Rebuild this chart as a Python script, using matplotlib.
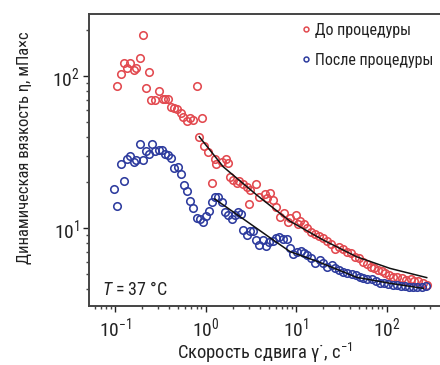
import matplotlib
matplotlib.use("Agg")
import matplotlib.pyplot as plt
from matplotlib.lines import Line2D

plt.rcParams['font.family'] = ['Roboto Condensed', 'DejaVu Sans']
plt.rcParams['mathtext.fontset'] = 'custom'
plt.rcParams['mathtext.rm'] = 'Roboto Condensed'
plt.rcParams['mathtext.it'] = 'Roboto Condensed:italic'

# --- data: before procedure (red) ---
before_x = [0.106, 0.116, 0.125, 0.136, 0.148, 0.161, 0.172, 0.187, 0.202, 0.218,
            0.236, 0.252, 0.279, 0.304, 0.337, 0.357, 0.385, 0.416, 0.452, 0.488,
            0.532, 0.569, 0.620, 0.679, 0.733, 0.80, 0.922, 0.853, 0.962, 1.06,
            1.18, 1.27, 1.32, 1.53, 1.67, 1.77, 1.87, 2.03, 2.21, 2.36,
            2.57, 2.85, 3.05, 3.10, 3.62, 3.93, 4.58, 4.74, 5.16, 5.53,
            6.01, 6.65, 7.36, 8.22, 8.58, 10.0, 10.6, 11.1, 12.2, 13.3,
            14.5, 16.2, 18.1, 20.0, 22.2, 24.2, 26.8, 29.6, 32.8, 36.3,
            40.2, 44.9, 50.0, 55.4, 61.4, 66.8, 72.7, 81.1, 88.5, 96.2,
            107, 119, 132, 147, 164, 185, 201, 225, 251, 278]
before_y = [86.3, 103, 122, 113, 122, 109, 113, 132, 185, 83.8,
            107, 69.8, 69.8, 79.6, 70.9, 70.6, 70.3, 62.3, 61.8, 60.9,
            56.9, 54.0, 50.6, 53.2, 51.4, 85.9, 53.2, 39.9, 34.8, 31.5,
            19.9, 28.3, 26.2, 27.1, 28.3, 26.6, 21.8, 20.7, 19.7, 20.4,
            19.4, 18.7, 14.3, 17.8, 19.4, 16.1, 16.7, 15.8, 17.1, 15.3,
            13.8, 11.9, 12.5, 11.0, 11.6, 12.2, 10.7, 11.2, 10.7, 9.95,
            9.46, 9.09, 8.85, 8.55, 8.25, 7.85, 7.24, 7.53, 7.24, 6.98,
            6.81, 6.47, 6.31, 5.97, 5.79, 5.56, 5.43, 5.29, 5.24, 5.08,
            4.91, 4.79, 4.74, 4.67, 4.55, 4.60, 4.50, 4.50, 4.33, 4.22]

# --- data: after procedure (blue) ---
after_x = [0.098, 0.106, 0.116, 0.126, 0.136, 0.148, 0.161, 0.172, 0.187, 0.202,
           0.218, 0.236, 0.256, 0.279, 0.304, 0.331, 0.357, 0.385, 0.416, 0.449,
           0.493, 0.532, 0.574, 0.620, 0.679, 0.733, 0.80, 0.869, 0.927, 1.00,
           1.09, 1.18, 1.27, 1.38, 1.51, 1.64, 1.79, 1.95, 2.10, 2.27,
           2.45, 2.62, 2.85, 3.10, 3.38, 3.59, 3.93, 4.28, 4.66, 5.07,
           5.53, 6.01, 6.53, 7.12, 8.01, 8.58, 9.34, 10.2, 11.3, 12.2,
           13.3, 14.5, 16.2, 18.4, 20.0, 21.8, 24.8, 27.0, 30.1, 33.3,
           36.9, 41.2, 46.0, 50.9, 55.4, 61.4, 68.6, 76.6, 84.7, 93.8,
           105, 117, 130, 144, 160, 179, 198, 219, 245, 273]
after_y = [18.2, 13.9, 26.2, 20.3, 28.6, 29.8, 27.2, 28.0, 35.8, 28.0,
           32.1, 30.8, 35.8, 32.1, 32.5, 32.6, 30.8, 30.4, 28.9, 24.7,
           25.3, 22.6, 19.2, 17.6, 15.1, 13.5, 11.7, 11.5, 10.9, 12.0,
           13.0, 14.8, 15.9, 15.9, 14.9, 12.8, 12.2, 11.4, 12.2, 12.7,
           12.3, 9.70, 9.00, 9.60, 9.51, 8.34, 7.73, 8.34, 7.62, 8.09,
           8.25, 8.55, 8.77, 8.43, 8.43, 7.35, 6.70, 6.95, 7.06, 6.82,
           6.61, 6.32, 5.91, 6.15, 5.86, 5.56, 5.71, 5.43, 5.29, 5.16,
           5.08, 4.98, 4.91, 4.79, 4.67, 4.62, 4.60, 4.50, 4.36, 4.33,
           4.28, 4.22, 4.22, 4.18, 4.15, 4.11, 4.07, 4.07, 4.07, 4.15]

# --- fitted curves ---
fit_before_x = [0.853, 1.57, 3.68, 8.58, 20.0, 46.9, 109, 278]
fit_before_y = [39.9, 25.3, 16.5, 11.1, 8.34, 6.47, 5.43, 4.72]
fit_after_x = [1.27, 2.40, 5.61, 8.58, 17.6, 46.9, 109, 255]
fit_after_y = [15.5, 11.9, 8.34, 7.00, 6.00, 4.74, 4.33, 4.01]

labels = ['До процедуры', 'После процедуры']
red = '#e2494f'
blue = '#2d3b9e'

fig = plt.figure(figsize=(4.4, 3.65), dpi=100)
ax = fig.add_axes([89/440, 1-306/365, 1-89/440, (306-14)/365])
ax.set_xscale('log')
ax.set_yscale('log')

ax.plot(before_x, before_y, 'o', mfc='none', mec=red, ms=5.4, mew=1.15)
ax.plot(after_x, after_y, 'o', mfc='none', mec=blue, ms=5.4, mew=1.15)
ax.plot(fit_before_x, fit_before_y, '-', color='#111111', lw=1.1)
ax.plot(fit_after_x, fit_after_y, '-', color='#111111', lw=1.1)

ax.set_xlim(0.0516, 390)
ax.set_ylim(3.07, 256)

for s in ['left', 'bottom', 'top']:
    ax.spines[s].set_color('#444444')
    ax.spines[s].set_linewidth(1.4)
ax.spines['right'].set_visible(False)

ax.tick_params(which='major', direction='out', length=4, width=1, labelsize=14,
               colors='#222222', pad=3)
ax.tick_params(which='minor', direction='out', length=2.5, width=1, colors='#444444')
ax.tick_params(axis='y', which='both', right=False)
ax.tick_params(axis='x', which='both', top=False)

ax.set_xlabel('Скорость сдвига γ˙, с$^{-1}$', fontsize=13.3, color='#222222', labelpad=1)
ax.set_ylabel('Динамическая вязкость η, мПа×с', fontsize=12, color='#222222')
ax.yaxis.set_label_coords(-0.162, 0.541)

ax.text(0.037, 0.038, '$T$ = 37 °C', transform=ax.transAxes, fontsize=13, color='#222222')

handles = [Line2D([], [], ls='none', marker='o', mfc='none', mec=red, ms=3.5, mew=1.1),
           Line2D([], [], ls='none', marker='o', mfc='none', mec=blue, ms=3.5, mew=1.1)]
ax.legend(handles, labels, loc='upper left', bbox_to_anchor=(0.578, 1.003), frameon=False,
          fontsize=11.5, handlelength=0.6, handletextpad=0.25, labelspacing=0.95,
          borderaxespad=0.2, labelcolor='#222222')

fig.savefig('out.png', dpi=100)
